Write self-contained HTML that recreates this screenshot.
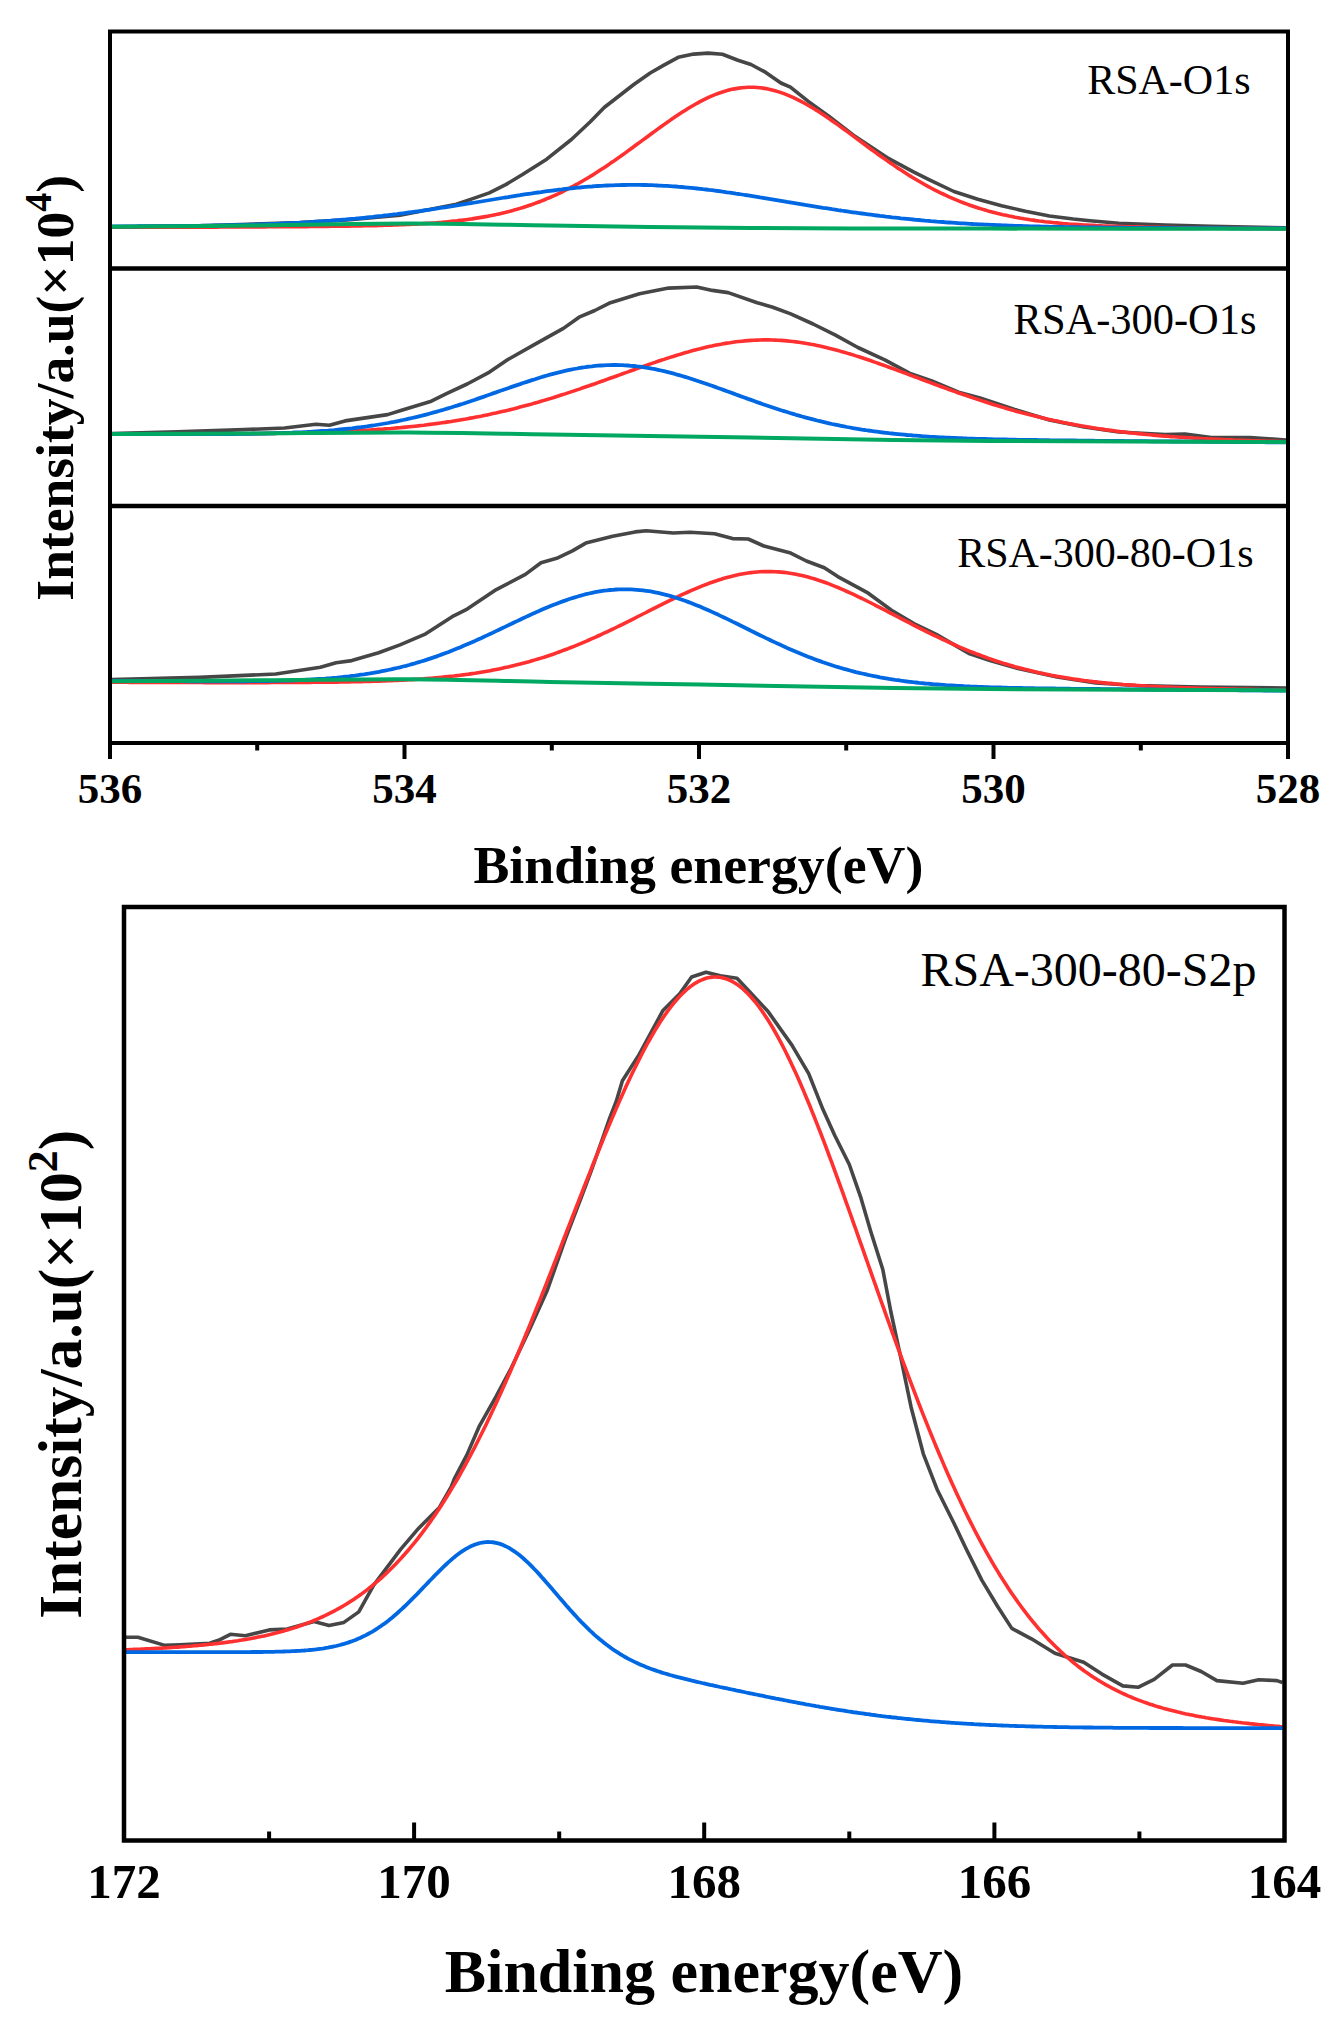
<!DOCTYPE html>
<html><head><meta charset="utf-8"><title>XPS spectra</title>
<style>
html,body{margin:0;padding:0;background:#fff;}
body{width:1340px;height:2024px;overflow:hidden;}
svg{display:block;}
text{font-family:"Liberation Serif",serif;fill:#000;}
.tl1{font-weight:bold;font-size:43px;}
.tl2{font-weight:bold;font-size:49px;}
.xt1{font-weight:bold;font-size:52px;}
.xt2{font-weight:bold;font-size:62px;}
.yt1{font-weight:bold;font-size:52px;}
.yt2{font-weight:bold;font-size:60.5px;}
.sup1{font-size:37px;}
.sup2{font-size:43px;}
.pl{font-size:42px;}
.pl2{font-size:48px;}
</style></head>
<body><svg width="1340" height="2024" viewBox="0 0 1340 2024">
<rect width="1340" height="2024" fill="#fff"/>
<defs>
<clipPath id="c1"><rect x="110" y="31.5" width="1178" height="237.0"/></clipPath>
<clipPath id="c2"><rect x="110" y="268.5" width="1178" height="237.5"/></clipPath>
<clipPath id="c3"><rect x="110" y="506" width="1178" height="237"/></clipPath>
<clipPath id="c4"><rect x="124" y="907" width="1160.5" height="933.5"/></clipPath>
</defs>
<path d="M112 226.8 L200 225.8 L300 222.6 L350 219.6 L400 215.2 L456.4 204.3 L472.8 198.6 L489.3 192.9 L505.7 184.6 L522.1 174.8 L546.7 159.2 L571.4 139.5 L590.3 121.8 L604.2 107.5 L633.8 84.5 L650.2 73 L663.9 65.1 L678.2 57.3 L693.7 54.1 L708.1 53.1 L722.4 54.3 L737.9 60.3 L751 64.5 L765.4 72.2 L780.9 83 L790.4 87.2 L808.6 101.6 L828.8 116.2 L853.4 135.2 L887 157.6 L913.9 172.2 L930 180.1 L953.9 191.5 L977.8 199.3 L1001.6 205.8 L1025.5 211.2 L1049.4 216 L1073.3 219 L1090 220.7 L1118.8 223.2 L1165.1 225 L1211.3 226.2 L1286 227.8" stroke="#464646" stroke-width="3.6" fill="none" stroke-linejoin="round" stroke-linecap="butt" clip-path="url(#c1)"/>
<path d="M112 227.3 L115 227.3 L118 227.3 L121 227.3 L124 227.3 L127 227.3 L130 227.3 L133 227.3 L136 227.3 L139 227.3 L142 227.2 L145 227.2 L148 227.2 L151 227.2 L154 227.2 L157 227.2 L160 227.2 L163 227.2 L166 227.2 L169 227.2 L172 227.2 L175 227.2 L178 227.2 L181 227.2 L184 227.2 L187 227.1 L190 227.1 L193 227.1 L196 227.1 L199 227.1 L202 227.1 L205 227.1 L208 227.1 L211 227.1 L214 227.1 L217 227.1 L220 227 L223 227 L226 227 L229 227 L232 227 L235 227 L238 227 L241 227 L244 227 L247 226.9 L250 226.9 L253 226.9 L256 226.9 L259 226.9 L262 226.9 L265 226.9 L268 226.8 L271 226.8 L274 226.8 L277 226.8 L280 226.8 L283 226.7 L286 226.7 L289 226.7 L292 226.7 L295 226.7 L298 226.6 L301 226.6 L304 226.6 L307 226.6 L310 226.5 L313 226.5 L316 226.5 L319 226.5 L322 226.4 L325 226.4 L328 226.4 L331 226.3 L334 226.3 L337 226.3 L340 226.2 L343 226.2 L346 226.1 L349 226.1 L352 226 L355 226 L358 225.9 L361 225.9 L364 225.8 L367 225.8 L370 225.7 L373 225.6 L376 225.6 L379 225.5 L382 225.4 L385 225.3 L388 225.2 L391 225.1 L394 225 L397 224.9 L400 224.8 L403 224.7 L406 224.5 L409 224.4 L412 224.3 L415 224.1 L418 224 L421 223.8 L424 223.6 L427 223.4 L430 223.2 L433 223 L436 222.8 L439 222.5 L442 222.3 L445 222 L448 221.7 L451 221.4 L454 221.1 L457 220.8 L460 220.4 L463 220.1 L466 219.7 L469 219.3 L472 218.9 L475 218.4 L478 217.9 L481 217.4 L484 216.9 L487 216.4 L490 215.8 L493 215.2 L496 214.6 L499 213.9 L502 213.2 L505 212.5 L508 211.7 L511 211 L514 210.1 L517 209.3 L520 208.4 L523 207.5 L526 206.5 L529 205.5 L532 204.5 L535 203.4 L538 202.3 L541 201.2 L544 200 L547 198.7 L550 197.5 L553 196.2 L556 194.8 L559 193.4 L562 192 L565 190.5 L568 189 L571 187.4 L574 185.8 L577 184.2 L580 182.5 L583 180.7 L586 179 L589 177.2 L592 175.4 L595 173.5 L598 171.6 L601 169.6 L604 167.7 L607 165.7 L610 163.6 L613 161.6 L616 159.5 L619 157.4 L622 155.2 L625 153.1 L628 150.9 L631 148.7 L634 146.5 L637 144.3 L640 142.1 L643 139.9 L646 137.7 L649 135.5 L652 133.3 L655 131.1 L658 128.9 L661 126.7 L664 124.6 L667 122.5 L670 120.4 L673 118.3 L676 116.3 L679 114.3 L682 112.3 L685 110.4 L688 108.5 L691 106.7 L694 105 L697 103.3 L700 101.7 L703 100.1 L706 98.6 L709 97.2 L712 95.9 L715 94.7 L718 93.5 L721 92.5 L724 91.5 L727 90.6 L730 89.8 L733 89.1 L736 88.6 L739 88.1 L742 87.7 L745 87.5 L748 87.3 L751 87.3 L754 87.3 L757 87.5 L760 87.8 L763 88.1 L766 88.6 L769 89.2 L772 89.9 L775 90.7 L778 91.6 L781 92.6 L784 93.6 L787 94.8 L790 96.1 L793 97.4 L796 98.8 L799 100.3 L802 101.9 L805 103.5 L808 105.2 L811 107 L814 108.8 L817 110.6 L820 112.6 L823 114.5 L826 116.5 L829 118.6 L832 120.7 L835 122.8 L838 124.9 L841 127.1 L844 129.2 L847 131.4 L850 133.6 L853 135.9 L856 138.1 L859 140.3 L862 142.5 L865 144.7 L868 147 L871 149.2 L874 151.3 L877 153.5 L880 155.7 L883 157.8 L886 159.9 L889 162 L892 164.1 L895 166.1 L898 168.2 L901 170.1 L904 172.1 L907 174 L910 175.9 L913 177.7 L916 179.5 L919 181.3 L922 183 L925 184.7 L928 186.4 L931 188 L934 189.6 L937 191.1 L940 192.6 L943 194 L946 195.4 L949 196.8 L952 198.1 L955 199.4 L958 200.6 L961 201.8 L964 203 L967 204.1 L970 205.2 L973 206.2 L976 207.2 L979 208.2 L982 209.1 L985 210 L988 210.9 L991 211.7 L994 212.5 L997 213.3 L1000 214 L1003 214.7 L1006 215.3 L1009 216 L1012 216.6 L1015 217.2 L1018 217.7 L1021 218.3 L1024 218.8 L1027 219.2 L1030 219.7 L1033 220.1 L1036 220.6 L1039 221 L1042 221.3 L1045 221.7 L1048 222 L1051 222.3 L1054 222.7 L1057 222.9 L1060 223.2 L1063 223.5 L1066 223.7 L1069 224 L1072 224.2 L1075 224.4 L1078 224.6 L1081 224.8 L1084 225 L1087 225.1 L1090 225.3 L1093 225.4 L1096 225.6 L1099 225.7 L1102 225.9 L1105 226 L1108 226.1 L1111 226.2 L1114 226.3 L1117 226.4 L1120 226.5 L1123 226.6 L1126 226.7 L1129 226.8 L1132 226.9 L1135 226.9 L1138 227 L1141 227.1 L1144 227.1 L1147 227.2 L1150 227.3 L1153 227.3 L1156 227.4 L1159 227.4 L1162 227.5 L1165 227.5 L1168 227.6 L1171 227.6 L1174 227.6 L1177 227.7 L1180 227.7 L1183 227.8 L1186 227.8 L1189 227.8 L1192 227.9 L1195 227.9 L1198 227.9 L1201 228 L1204 228 L1207 228 L1210 228.1 L1213 228.1 L1216 228.1 L1219 228.2 L1222 228.2 L1225 228.2 L1228 228.2 L1231 228.3 L1234 228.3 L1237 228.3 L1240 228.3 L1243 228.4 L1246 228.4 L1249 228.4 L1252 228.4 L1255 228.5 L1258 228.5 L1261 228.5 L1264 228.5 L1267 228.5 L1270 228.6 L1273 228.6 L1276 228.6 L1279 228.6 L1282 228.6 L1285 228.7 L1286 228.7" stroke="#FF3030" stroke-width="3.6" fill="none" stroke-linejoin="round" stroke-linecap="butt" clip-path="url(#c1)"/>
<path d="M112 226.3 L115 226.3 L118 226.3 L121 226.3 L124 226.3 L127 226.3 L130 226.3 L133 226.3 L136 226.3 L139 226.2 L142 226.2 L145 226.2 L148 226.2 L151 226.2 L154 226.2 L157 226.2 L160 226.1 L163 226.1 L166 226.1 L169 226.1 L172 226 L175 226 L178 226 L181 226 L184 225.9 L187 225.9 L190 225.9 L193 225.8 L196 225.8 L199 225.8 L202 225.7 L205 225.7 L208 225.6 L211 225.6 L214 225.5 L217 225.5 L220 225.4 L223 225.4 L226 225.3 L229 225.2 L232 225.2 L235 225.1 L238 225 L241 225 L244 224.9 L247 224.8 L250 224.7 L253 224.6 L256 224.5 L259 224.4 L262 224.3 L265 224.2 L268 224.1 L271 224 L274 223.9 L277 223.8 L280 223.6 L283 223.5 L286 223.4 L289 223.2 L292 223.1 L295 222.9 L298 222.8 L301 222.6 L304 222.4 L307 222.3 L310 222.1 L313 221.9 L316 221.7 L319 221.5 L322 221.3 L325 221.1 L328 220.9 L331 220.7 L334 220.4 L337 220.2 L340 220 L343 219.7 L346 219.5 L349 219.2 L352 218.9 L355 218.7 L358 218.4 L361 218.1 L364 217.8 L367 217.5 L370 217.2 L373 216.9 L376 216.5 L379 216.2 L382 215.9 L385 215.5 L388 215.2 L391 214.8 L394 214.4 L397 214.1 L400 213.7 L403 213.3 L406 212.9 L409 212.5 L412 212.1 L415 211.7 L418 211.3 L421 210.9 L424 210.4 L427 210 L430 209.6 L433 209.1 L436 208.7 L439 208.2 L442 207.7 L445 207.3 L448 206.8 L451 206.3 L454 205.9 L457 205.4 L460 204.9 L463 204.4 L466 203.9 L469 203.4 L472 203 L475 202.5 L478 202 L481 201.5 L484 201 L487 200.5 L490 200 L493 199.5 L496 199 L499 198.5 L502 198 L505 197.5 L508 197.1 L511 196.6 L514 196.1 L517 195.6 L520 195.2 L523 194.7 L526 194.2 L529 193.8 L532 193.4 L535 192.9 L538 192.5 L541 192.1 L544 191.6 L547 191.2 L550 190.8 L553 190.5 L556 190.1 L559 189.7 L562 189.4 L565 189 L568 188.7 L571 188.4 L574 188 L577 187.7 L580 187.5 L583 187.2 L586 186.9 L589 186.7 L592 186.5 L595 186.2 L598 186 L601 185.9 L604 185.7 L607 185.5 L610 185.4 L613 185.3 L616 185.2 L619 185.1 L622 185 L625 185 L628 184.9 L631 184.9 L634 184.9 L637 184.9 L640 184.9 L643 185 L646 185 L649 185.1 L652 185.2 L655 185.3 L658 185.5 L661 185.6 L664 185.8 L667 185.9 L670 186.1 L673 186.3 L676 186.5 L679 186.8 L682 187 L685 187.3 L688 187.6 L691 187.9 L694 188.2 L697 188.5 L700 188.8 L703 189.2 L706 189.5 L709 189.9 L712 190.2 L715 190.6 L718 191 L721 191.4 L724 191.8 L727 192.3 L730 192.7 L733 193.1 L736 193.6 L739 194 L742 194.5 L745 195 L748 195.4 L751 195.9 L754 196.4 L757 196.9 L760 197.4 L763 197.8 L766 198.3 L769 198.8 L772 199.3 L775 199.8 L778 200.3 L781 200.8 L784 201.3 L787 201.9 L790 202.4 L793 202.9 L796 203.4 L799 203.9 L802 204.4 L805 204.9 L808 205.3 L811 205.8 L814 206.3 L817 206.8 L820 207.3 L823 207.8 L826 208.2 L829 208.7 L832 209.2 L835 209.6 L838 210.1 L841 210.5 L844 211 L847 211.4 L850 211.9 L853 212.3 L856 212.7 L859 213.1 L862 213.5 L865 213.9 L868 214.3 L871 214.7 L874 215.1 L877 215.5 L880 215.9 L883 216.2 L886 216.6 L889 216.9 L892 217.3 L895 217.6 L898 217.9 L901 218.3 L904 218.6 L907 218.9 L910 219.2 L913 219.5 L916 219.8 L919 220 L922 220.3 L925 220.6 L928 220.8 L931 221.1 L934 221.3 L937 221.6 L940 221.8 L943 222 L946 222.3 L949 222.5 L952 222.7 L955 222.9 L958 223.1 L961 223.3 L964 223.4 L967 223.6 L970 223.8 L973 224 L976 224.1 L979 224.3 L982 224.4 L985 224.6 L988 224.7 L991 224.9 L994 225 L997 225.1 L1000 225.2 L1003 225.4 L1006 225.5 L1009 225.6 L1012 225.7 L1015 225.8 L1018 225.9 L1021 226 L1024 226.1 L1027 226.2 L1030 226.3 L1033 226.3 L1036 226.4 L1039 226.5 L1042 226.6 L1045 226.6 L1048 226.7 L1051 226.8 L1054 226.8 L1057 226.9 L1060 226.9 L1063 227 L1066 227.1 L1069 227.1 L1072 227.2 L1075 227.2 L1078 227.2 L1081 227.3 L1084 227.3 L1087 227.4 L1090 227.4 L1093 227.4 L1096 227.5 L1099 227.5 L1102 227.6 L1105 227.6 L1108 227.6 L1111 227.6 L1114 227.7 L1117 227.7 L1120 227.7 L1123 227.7 L1126 227.8 L1129 227.8 L1132 227.8 L1135 227.8 L1138 227.9 L1141 227.9 L1144 227.9 L1147 227.9 L1150 227.9 L1153 228 L1156 228 L1159 228 L1162 228 L1165 228 L1168 228 L1171 228 L1174 228.1 L1177 228.1 L1180 228.1 L1183 228.1 L1186 228.1 L1189 228.1 L1192 228.1 L1195 228.1 L1198 228.2 L1201 228.2 L1204 228.2 L1207 228.2 L1210 228.2 L1213 228.2 L1216 228.2 L1219 228.2 L1222 228.2 L1225 228.2 L1228 228.3 L1231 228.3 L1234 228.3 L1237 228.3 L1240 228.3 L1243 228.3 L1246 228.3 L1249 228.3 L1252 228.3 L1255 228.3 L1258 228.3 L1261 228.3 L1264 228.3 L1267 228.4 L1270 228.4 L1273 228.4 L1276 228.4 L1279 228.4 L1282 228.4 L1285 228.4 L1286 228.4" stroke="#0068E2" stroke-width="3.8" fill="none" stroke-linejoin="round" stroke-linecap="butt" clip-path="url(#c1)"/>
<path d="M112 226.8 C135 226.6 200.3 226.1 250 225.5 C299.7 224.9 360 223.5 410 223.5 C460 223.5 501.7 224.8 550 225.5 C598.3 226.2 650 227.1 700 227.6 C750 228.1 801.7 228.3 850 228.5 C898.3 228.7 917.3 228.5 990 228.6 C1062.7 228.7 1236.7 228.8 1286 228.8" stroke="#00A862" stroke-width="4.0" fill="none" stroke-linejoin="round" stroke-linecap="butt" clip-path="url(#c1)"/>
<path d="M112 433.5 L177 431.9 L244.3 429.6 L284.6 428 L316 424.3 L329.4 425.2 L345 420.9 L387.6 414.6 L400 410.8 L431.3 401.2 L447 393.4 L467.2 384 L489.5 372.1 L507.5 359.8 L534.3 344.6 L563.4 328.4 L579.1 317.2 L594.8 310.5 L610.4 302.7 L639.5 293.7 L668.6 288.1 L696.7 287 L712.4 290.4 L728.1 292.6 L757.2 302.7 L772.8 307.2 L790.7 313.9 L813.1 324 L835.5 335.2 L857.9 347.5 L884.8 359.8 L909.4 373.2 L931.8 381 L958.6 392.2 L980 398 L1014.7 409.5 L1049.4 420 L1084.1 427 L1118.8 432 L1165.1 434.5 L1185 434 L1211.3 437.5 L1250 437.5 L1286 440" stroke="#464646" stroke-width="3.6" fill="none" stroke-linejoin="round" stroke-linecap="butt" clip-path="url(#c2)"/>
<path d="M112 433.9 L115 433.9 L118 434 L121 434 L124 434 L127 434 L130 434 L133 434 L136 434 L139 434 L142 434 L145 434 L148 434 L151 434 L154 434 L157 434 L160 434 L163 434 L166 434 L169 434 L172 434 L175 434 L178 434 L181 434 L184 434 L187 434 L190 434 L193 434 L196 434 L199 434 L202 434 L205 434 L208 433.9 L211 433.9 L214 433.9 L217 433.9 L220 433.9 L223 433.9 L226 433.9 L229 433.8 L232 433.8 L235 433.8 L238 433.8 L241 433.8 L244 433.7 L247 433.7 L250 433.7 L253 433.6 L256 433.6 L259 433.6 L262 433.5 L265 433.5 L268 433.5 L271 433.4 L274 433.4 L277 433.3 L280 433.3 L283 433.2 L286 433.2 L289 433.1 L292 433.1 L295 433 L298 432.9 L301 432.9 L304 432.8 L307 432.7 L310 432.6 L313 432.5 L316 432.5 L319 432.4 L322 432.3 L325 432.2 L328 432.1 L331 431.9 L334 431.8 L337 431.7 L340 431.6 L343 431.5 L346 431.3 L349 431.2 L352 431 L355 430.9 L358 430.7 L361 430.5 L364 430.4 L367 430.2 L370 430 L373 429.8 L376 429.6 L379 429.4 L382 429.2 L385 428.9 L388 428.7 L391 428.5 L394 428.2 L397 427.9 L400 427.7 L403 427.4 L406 427.1 L409 426.8 L412 426.5 L415 426.2 L418 425.9 L421 425.5 L424 425.2 L427 424.8 L430 424.4 L433 424 L436 423.6 L439 423.2 L442 422.8 L445 422.4 L448 421.9 L451 421.5 L454 421 L457 420.5 L460 420 L463 419.5 L466 419 L469 418.4 L472 417.9 L475 417.3 L478 416.7 L481 416.2 L484 415.5 L487 414.9 L490 414.3 L493 413.6 L496 413 L499 412.3 L502 411.6 L505 410.9 L508 410.2 L511 409.4 L514 408.7 L517 407.9 L520 407.1 L523 406.3 L526 405.5 L529 404.7 L532 403.9 L535 403 L538 402.2 L541 401.3 L544 400.4 L547 399.5 L550 398.6 L553 397.7 L556 396.7 L559 395.8 L562 394.8 L565 393.9 L568 392.9 L571 391.9 L574 390.9 L577 389.9 L580 388.9 L583 387.8 L586 386.8 L589 385.8 L592 384.7 L595 383.7 L598 382.6 L601 381.5 L604 380.5 L607 379.4 L610 378.3 L613 377.3 L616 376.2 L619 375.1 L622 374 L625 372.9 L628 371.9 L631 370.8 L634 369.7 L637 368.6 L640 367.6 L643 366.5 L646 365.5 L649 364.4 L652 363.4 L655 362.4 L658 361.3 L661 360.3 L664 359.4 L667 358.4 L670 357.4 L673 356.5 L676 355.5 L679 354.6 L682 353.7 L685 352.8 L688 352 L691 351.1 L694 350.3 L697 349.5 L700 348.8 L703 348 L706 347.3 L709 346.6 L712 346 L715 345.3 L718 344.7 L721 344.2 L724 343.6 L727 343.1 L730 342.7 L733 342.2 L736 341.8 L739 341.5 L742 341.2 L745 340.9 L748 340.6 L751 340.4 L754 340.2 L757 340.1 L760 340 L763 339.9 L766 339.9 L769 339.9 L772 340 L775 340.1 L778 340.2 L781 340.4 L784 340.6 L787 340.9 L790 341.2 L793 341.5 L796 341.9 L799 342.3 L802 342.7 L805 343.2 L808 343.7 L811 344.3 L814 344.8 L817 345.4 L820 346.1 L823 346.7 L826 347.4 L829 348.2 L832 348.9 L835 349.7 L838 350.5 L841 351.4 L844 352.2 L847 353.1 L850 354 L853 354.9 L856 355.9 L859 356.8 L862 357.8 L865 358.8 L868 359.8 L871 360.8 L874 361.9 L877 362.9 L880 364 L883 365 L886 366.1 L889 367.2 L892 368.3 L895 369.4 L898 370.5 L901 371.6 L904 372.7 L907 373.9 L910 375 L913 376.1 L916 377.2 L919 378.4 L922 379.5 L925 380.6 L928 381.7 L931 382.9 L934 384 L937 385.1 L940 386.2 L943 387.3 L946 388.4 L949 389.5 L952 390.6 L955 391.6 L958 392.7 L961 393.8 L964 394.8 L967 395.8 L970 396.9 L973 397.9 L976 398.9 L979 399.9 L982 400.9 L985 401.8 L988 402.8 L991 403.7 L994 404.7 L997 405.6 L1000 406.5 L1003 407.4 L1006 408.3 L1009 409.2 L1012 410 L1015 410.9 L1018 411.7 L1021 412.5 L1024 413.3 L1027 414.1 L1030 414.8 L1033 415.6 L1036 416.3 L1039 417.1 L1042 417.8 L1045 418.5 L1048 419.2 L1051 419.8 L1054 420.5 L1057 421.1 L1060 421.8 L1063 422.4 L1066 423 L1069 423.6 L1072 424.1 L1075 424.7 L1078 425.2 L1081 425.8 L1084 426.3 L1087 426.8 L1090 427.3 L1093 427.8 L1096 428.2 L1099 428.7 L1102 429.1 L1105 429.6 L1108 430 L1111 430.4 L1114 430.8 L1117 431.2 L1120 431.6 L1123 431.9 L1126 432.3 L1129 432.7 L1132 433 L1135 433.3 L1138 433.6 L1141 433.9 L1144 434.2 L1147 434.5 L1150 434.8 L1153 435.1 L1156 435.4 L1159 435.6 L1162 435.9 L1165 436.1 L1168 436.3 L1171 436.6 L1174 436.8 L1177 437 L1180 437.2 L1183 437.4 L1186 437.6 L1189 437.8 L1192 438 L1195 438.2 L1198 438.3 L1201 438.5 L1204 438.7 L1207 438.8 L1210 439 L1213 439.1 L1216 439.3 L1219 439.4 L1222 439.5 L1225 439.7 L1228 439.8 L1231 439.9 L1234 440.1 L1237 440.2 L1240 440.3 L1243 440.4 L1246 440.5 L1249 440.6 L1252 440.7 L1255 440.8 L1258 440.9 L1261 441 L1264 441.1 L1267 441.2 L1270 441.3 L1273 441.3 L1276 441.4 L1279 441.5 L1282 441.6 L1285 441.7 L1286 441.7" stroke="#FF3030" stroke-width="3.6" fill="none" stroke-linejoin="round" stroke-linecap="butt" clip-path="url(#c2)"/>
<path d="M112 433.9 L115 433.9 L118 433.9 L121 434 L124 434 L127 434 L130 434 L133 434 L136 434 L139 434 L142 434 L145 434.1 L148 434.1 L151 434.1 L154 434.1 L157 434.1 L160 434.1 L163 434.1 L166 434.1 L169 434.1 L172 434.1 L175 434.1 L178 434.1 L181 434.1 L184 434.1 L187 434.1 L190 434.1 L193 434.1 L196 434.1 L199 434.1 L202 434.1 L205 434.1 L208 434.1 L211 434.1 L214 434.1 L217 434.1 L220 434.1 L223 434 L226 434 L229 434 L232 434 L235 434 L238 433.9 L241 433.9 L244 433.9 L247 433.8 L250 433.8 L253 433.7 L256 433.7 L259 433.6 L262 433.6 L265 433.5 L268 433.4 L271 433.3 L274 433.3 L277 433.2 L280 433.1 L283 433 L286 432.9 L289 432.8 L292 432.7 L295 432.5 L298 432.4 L301 432.3 L304 432.1 L307 432 L310 431.8 L313 431.6 L316 431.4 L319 431.2 L322 431 L325 430.8 L328 430.6 L331 430.3 L334 430.1 L337 429.8 L340 429.5 L343 429.2 L346 428.9 L349 428.6 L352 428.3 L355 427.9 L358 427.5 L361 427.2 L364 426.8 L367 426.4 L370 425.9 L373 425.5 L376 425 L379 424.5 L382 424 L385 423.5 L388 423 L391 422.4 L394 421.9 L397 421.3 L400 420.7 L403 420 L406 419.4 L409 418.7 L412 418 L415 417.3 L418 416.6 L421 415.9 L424 415.1 L427 414.3 L430 413.5 L433 412.7 L436 411.9 L439 411 L442 410.2 L445 409.3 L448 408.4 L451 407.5 L454 406.5 L457 405.6 L460 404.6 L463 403.7 L466 402.7 L469 401.7 L472 400.7 L475 399.7 L478 398.6 L481 397.6 L484 396.6 L487 395.5 L490 394.5 L493 393.4 L496 392.4 L499 391.3 L502 390.3 L505 389.2 L508 388.2 L511 387.1 L514 386.1 L517 385.1 L520 384.1 L523 383 L526 382.1 L529 381.1 L532 380.1 L535 379.2 L538 378.2 L541 377.3 L544 376.4 L547 375.5 L550 374.7 L553 373.9 L556 373.1 L559 372.3 L562 371.6 L565 370.9 L568 370.2 L571 369.6 L574 369 L577 368.5 L580 367.9 L583 367.5 L586 367 L589 366.6 L592 366.3 L595 365.9 L598 365.7 L601 365.5 L604 365.3 L607 365.1 L610 365.1 L613 365 L616 365 L619 365.1 L622 365.2 L625 365.3 L628 365.5 L631 365.8 L634 366 L637 366.4 L640 366.7 L643 367.2 L646 367.6 L649 368.1 L652 368.7 L655 369.2 L658 369.8 L661 370.5 L664 371.2 L667 371.9 L670 372.7 L673 373.4 L676 374.3 L679 375.1 L682 376 L685 376.9 L688 377.8 L691 378.7 L694 379.7 L697 380.7 L700 381.7 L703 382.7 L706 383.7 L709 384.8 L712 385.8 L715 386.9 L718 388 L721 389 L724 390.1 L727 391.2 L730 392.3 L733 393.4 L736 394.5 L739 395.6 L742 396.7 L745 397.8 L748 398.9 L751 399.9 L754 401 L757 402.1 L760 403.1 L763 404.2 L766 405.2 L769 406.2 L772 407.2 L775 408.2 L778 409.2 L781 410.2 L784 411.1 L787 412 L790 413 L793 413.9 L796 414.8 L799 415.6 L802 416.5 L805 417.3 L808 418.1 L811 418.9 L814 419.7 L817 420.5 L820 421.2 L823 421.9 L826 422.6 L829 423.3 L832 424 L835 424.6 L838 425.2 L841 425.8 L844 426.4 L847 427 L850 427.5 L853 428.1 L856 428.6 L859 429.1 L862 429.6 L865 430 L868 430.5 L871 430.9 L874 431.3 L877 431.7 L880 432.1 L883 432.5 L886 432.8 L889 433.2 L892 433.5 L895 433.8 L898 434.1 L901 434.4 L904 434.7 L907 435 L910 435.2 L913 435.5 L916 435.7 L919 435.9 L922 436.2 L925 436.4 L928 436.6 L931 436.8 L934 436.9 L937 437.1 L940 437.3 L943 437.4 L946 437.6 L949 437.7 L952 437.9 L955 438 L958 438.1 L961 438.2 L964 438.3 L967 438.5 L970 438.6 L973 438.7 L976 438.8 L979 438.9 L982 438.9 L985 439 L988 439.1 L991 439.2 L994 439.3 L997 439.3 L1000 439.4 L1003 439.5 L1006 439.5 L1009 439.6 L1012 439.6 L1015 439.7 L1018 439.8 L1021 439.8 L1024 439.9 L1027 439.9 L1030 440 L1033 440 L1036 440 L1039 440.1 L1042 440.1 L1045 440.2 L1048 440.2 L1051 440.3 L1054 440.3 L1057 440.3 L1060 440.4 L1063 440.4 L1066 440.4 L1069 440.5 L1072 440.5 L1075 440.5 L1078 440.6 L1081 440.6 L1084 440.6 L1087 440.7 L1090 440.7 L1093 440.7 L1096 440.8 L1099 440.8 L1102 440.8 L1105 440.9 L1108 440.9 L1111 440.9 L1114 440.9 L1117 441 L1120 441 L1123 441 L1126 441.1 L1129 441.1 L1132 441.1 L1135 441.1 L1138 441.2 L1141 441.2 L1144 441.2 L1147 441.2 L1150 441.3 L1153 441.3 L1156 441.3 L1159 441.4 L1162 441.4 L1165 441.4 L1168 441.4 L1171 441.5 L1174 441.5 L1177 441.5 L1180 441.5 L1183 441.6 L1186 441.6 L1189 441.6 L1192 441.6 L1195 441.7 L1198 441.7 L1201 441.7 L1204 441.7 L1207 441.8 L1210 441.8 L1213 441.8 L1216 441.8 L1219 441.9 L1222 441.9 L1225 441.9 L1228 441.9 L1231 442 L1234 442 L1237 442 L1240 442 L1243 442.1 L1246 442.1 L1249 442.1 L1252 442.1 L1255 442.2 L1258 442.2 L1261 442.2 L1264 442.2 L1267 442.3 L1270 442.3 L1273 442.3 L1276 442.3 L1279 442.3 L1282 442.4 L1285 442.4 L1286 442.4" stroke="#0068E2" stroke-width="3.8" fill="none" stroke-linejoin="round" stroke-linecap="butt" clip-path="url(#c2)"/>
<path d="M112 434.1 C135 434 200.3 433.8 250 433.5 C299.7 433.2 360 432.3 410 432.5 C460 432.7 501.7 433.8 550 434.5 C598.3 435.2 650 436 700 436.8 C750 437.6 801.7 438.5 850 439.2 C898.3 439.9 917.3 440.5 990 441 C1062.7 441.5 1236.7 441.8 1286 442" stroke="#00A862" stroke-width="4.0" fill="none" stroke-linejoin="round" stroke-linecap="butt" clip-path="url(#c2)"/>
<path d="M112 679.6 L199.5 677.4 L275.7 674 L320.4 667.3 L336.1 662.8 L351.8 660.6 L378.6 652.8 L400 644.9 L424.6 634.4 L453.7 615.8 L467.2 609.1 L496.3 589.6 L525.4 574.4 L541 562.8 L556.7 558.3 L572.4 550.9 L585.8 543.1 L612.7 536.3 L635.1 531.9 L646.3 530.7 L673.1 533 L690 532.3 L714.6 533.7 L732.5 538.6 L748.2 539 L763.9 546 L790.7 553.1 L806.4 561 L824.3 567.7 L837.8 576.6 L866.9 592.3 L891.5 610.2 L913.9 623.6 L936.2 634.4 L969.8 653.9 L990 660.6 L1018 668.5 L1057 677 L1096 683 L1136 685.5 L1200 687 L1286 688" stroke="#464646" stroke-width="3.6" fill="none" stroke-linejoin="round" stroke-linecap="butt" clip-path="url(#c3)"/>
<path d="M112 682.3 L115 682.3 L118 682.3 L121 682.3 L124 682.3 L127 682.3 L130 682.4 L133 682.4 L136 682.4 L139 682.4 L142 682.4 L145 682.4 L148 682.4 L151 682.4 L154 682.4 L157 682.4 L160 682.5 L163 682.5 L166 682.5 L169 682.5 L172 682.5 L175 682.5 L178 682.5 L181 682.5 L184 682.5 L187 682.5 L190 682.5 L193 682.5 L196 682.5 L199 682.5 L202 682.5 L205 682.6 L208 682.6 L211 682.6 L214 682.6 L217 682.6 L220 682.6 L223 682.6 L226 682.6 L229 682.6 L232 682.6 L235 682.6 L238 682.6 L241 682.6 L244 682.6 L247 682.6 L250 682.6 L253 682.6 L256 682.6 L259 682.6 L262 682.6 L265 682.6 L268 682.6 L271 682.5 L274 682.5 L277 682.5 L280 682.5 L283 682.5 L286 682.5 L289 682.5 L292 682.5 L295 682.5 L298 682.4 L301 682.4 L304 682.4 L307 682.4 L310 682.4 L313 682.3 L316 682.3 L319 682.3 L322 682.2 L325 682.2 L328 682.2 L331 682.1 L334 682.1 L337 682.1 L340 682 L343 682 L346 681.9 L349 681.9 L352 681.8 L355 681.7 L358 681.7 L361 681.6 L364 681.5 L367 681.4 L370 681.4 L373 681.3 L376 681.2 L379 681.1 L382 681 L385 680.9 L388 680.7 L391 680.6 L394 680.5 L397 680.4 L400 680.2 L403 680.1 L406 679.9 L409 679.7 L412 679.6 L415 679.4 L418 679.2 L421 679 L424 678.8 L427 678.5 L430 678.3 L433 678.1 L436 677.8 L439 677.5 L442 677.2 L445 676.9 L448 676.6 L451 676.3 L454 676 L457 675.6 L460 675.3 L463 674.9 L466 674.5 L469 674.1 L472 673.6 L475 673.2 L478 672.7 L481 672.2 L484 671.7 L487 671.2 L490 670.7 L493 670.1 L496 669.5 L499 668.9 L502 668.3 L505 667.6 L508 667 L511 666.3 L514 665.6 L517 664.8 L520 664.1 L523 663.3 L526 662.5 L529 661.7 L532 660.8 L535 659.9 L538 659 L541 658.1 L544 657.2 L547 656.2 L550 655.2 L553 654.2 L556 653.1 L559 652 L562 650.9 L565 649.8 L568 648.7 L571 647.5 L574 646.3 L577 645.1 L580 643.9 L583 642.6 L586 641.3 L589 640 L592 638.7 L595 637.4 L598 636 L601 634.6 L604 633.2 L607 631.8 L610 630.4 L613 629 L616 627.5 L619 626 L622 624.6 L625 623.1 L628 621.6 L631 620.1 L634 618.6 L637 617 L640 615.5 L643 614 L646 612.5 L649 610.9 L652 609.4 L655 607.9 L658 606.4 L661 604.9 L664 603.4 L667 601.9 L670 600.4 L673 599 L676 597.5 L679 596.1 L682 594.7 L685 593.3 L688 592 L691 590.7 L694 589.4 L697 588.1 L700 586.8 L703 585.6 L706 584.5 L709 583.3 L712 582.3 L715 581.2 L718 580.2 L721 579.3 L724 578.3 L727 577.5 L730 576.7 L733 575.9 L736 575.2 L739 574.6 L742 574 L745 573.5 L748 573 L751 572.6 L754 572.3 L757 572 L760 571.8 L763 571.6 L766 571.6 L769 571.5 L772 571.6 L775 571.7 L778 571.9 L781 572.1 L784 572.4 L787 572.8 L790 573.2 L793 573.7 L796 574.3 L799 574.9 L802 575.5 L805 576.3 L808 577.1 L811 577.9 L814 578.8 L817 579.7 L820 580.7 L823 581.7 L826 582.8 L829 583.9 L832 585.1 L835 586.3 L838 587.5 L841 588.8 L844 590.1 L847 591.5 L850 592.8 L853 594.2 L856 595.6 L859 597.1 L862 598.5 L865 600 L868 601.5 L871 603 L874 604.5 L877 606.1 L880 607.6 L883 609.2 L886 610.7 L889 612.3 L892 613.9 L895 615.4 L898 617 L901 618.6 L904 620.1 L907 621.7 L910 623.2 L913 624.8 L916 626.3 L919 627.8 L922 629.4 L925 630.9 L928 632.4 L931 633.8 L934 635.3 L937 636.7 L940 638.1 L943 639.6 L946 640.9 L949 642.3 L952 643.7 L955 645 L958 646.3 L961 647.6 L964 648.8 L967 650.1 L970 651.3 L973 652.5 L976 653.7 L979 654.8 L982 655.9 L985 657 L988 658.1 L991 659.1 L994 660.2 L997 661.2 L1000 662.1 L1003 663.1 L1006 664 L1009 664.9 L1012 665.8 L1015 666.7 L1018 667.5 L1021 668.3 L1024 669.1 L1027 669.8 L1030 670.6 L1033 671.3 L1036 672 L1039 672.7 L1042 673.3 L1045 674 L1048 674.6 L1051 675.2 L1054 675.7 L1057 676.3 L1060 676.8 L1063 677.3 L1066 677.8 L1069 678.3 L1072 678.8 L1075 679.2 L1078 679.6 L1081 680.1 L1084 680.5 L1087 680.8 L1090 681.2 L1093 681.6 L1096 681.9 L1099 682.2 L1102 682.6 L1105 682.9 L1108 683.2 L1111 683.4 L1114 683.7 L1117 684 L1120 684.2 L1123 684.5 L1126 684.7 L1129 684.9 L1132 685.1 L1135 685.3 L1138 685.5 L1141 685.7 L1144 685.9 L1147 686.1 L1150 686.2 L1153 686.4 L1156 686.6 L1159 686.7 L1162 686.9 L1165 687 L1168 687.1 L1171 687.3 L1174 687.4 L1177 687.5 L1180 687.6 L1183 687.7 L1186 687.8 L1189 687.9 L1192 688 L1195 688.1 L1198 688.2 L1201 688.3 L1204 688.4 L1207 688.5 L1210 688.6 L1213 688.6 L1216 688.7 L1219 688.8 L1222 688.9 L1225 688.9 L1228 689 L1231 689.1 L1234 689.1 L1237 689.2 L1240 689.3 L1243 689.3 L1246 689.4 L1249 689.4 L1252 689.5 L1255 689.6 L1258 689.6 L1261 689.7 L1264 689.7 L1267 689.8 L1270 689.8 L1273 689.9 L1276 689.9 L1279 690 L1282 690 L1285 690.1 L1286 690.1" stroke="#FF3030" stroke-width="3.6" fill="none" stroke-linejoin="round" stroke-linecap="butt" clip-path="url(#c3)"/>
<path d="M112 680.7 L115 680.8 L118 680.8 L121 680.8 L124 680.8 L127 680.9 L130 680.9 L133 680.9 L136 680.9 L139 680.9 L142 681 L145 681 L148 681 L151 681 L154 681.1 L157 681.1 L160 681.1 L163 681.1 L166 681.1 L169 681.2 L172 681.2 L175 681.2 L178 681.2 L181 681.2 L184 681.2 L187 681.3 L190 681.3 L193 681.3 L196 681.3 L199 681.3 L202 681.3 L205 681.3 L208 681.3 L211 681.4 L214 681.4 L217 681.4 L220 681.4 L223 681.4 L226 681.4 L229 681.4 L232 681.3 L235 681.3 L238 681.3 L241 681.3 L244 681.3 L247 681.3 L250 681.2 L253 681.2 L256 681.2 L259 681.1 L262 681.1 L265 681.1 L268 681 L271 680.9 L274 680.9 L277 680.8 L280 680.7 L283 680.7 L286 680.6 L289 680.5 L292 680.4 L295 680.3 L298 680.1 L301 680 L304 679.9 L307 679.7 L310 679.6 L313 679.4 L316 679.2 L319 679 L322 678.8 L325 678.6 L328 678.3 L331 678.1 L334 677.8 L337 677.6 L340 677.3 L343 677 L346 676.6 L349 676.3 L352 675.9 L355 675.6 L358 675.2 L361 674.7 L364 674.3 L367 673.8 L370 673.4 L373 672.9 L376 672.3 L379 671.8 L382 671.2 L385 670.6 L388 670 L391 669.4 L394 668.7 L397 668 L400 667.3 L403 666.5 L406 665.8 L409 665 L412 664.1 L415 663.3 L418 662.4 L421 661.5 L424 660.6 L427 659.6 L430 658.6 L433 657.6 L436 656.6 L439 655.5 L442 654.4 L445 653.3 L448 652.2 L451 651 L454 649.8 L457 648.6 L460 647.4 L463 646.1 L466 644.8 L469 643.5 L472 642.2 L475 640.9 L478 639.5 L481 638.2 L484 636.8 L487 635.4 L490 634 L493 632.6 L496 631.1 L499 629.7 L502 628.3 L505 626.9 L508 625.4 L511 624 L514 622.5 L517 621.1 L520 619.7 L523 618.3 L526 616.9 L529 615.5 L532 614.1 L535 612.8 L538 611.4 L541 610.1 L544 608.8 L547 607.5 L550 606.3 L553 605.1 L556 603.9 L559 602.7 L562 601.6 L565 600.6 L568 599.5 L571 598.5 L574 597.6 L577 596.7 L580 595.8 L583 595 L586 594.2 L589 593.5 L592 592.8 L595 592.2 L598 591.7 L601 591.2 L604 590.7 L607 590.4 L610 590 L613 589.8 L616 589.5 L619 589.4 L622 589.3 L625 589.3 L628 589.3 L631 589.4 L634 589.6 L637 589.8 L640 590.1 L643 590.4 L646 590.8 L649 591.2 L652 591.7 L655 592.3 L658 592.9 L661 593.6 L664 594.3 L667 595.1 L670 595.9 L673 596.8 L676 597.7 L679 598.7 L682 599.7 L685 600.8 L688 601.9 L691 603 L694 604.2 L697 605.4 L700 606.6 L703 607.9 L706 609.2 L709 610.5 L712 611.9 L715 613.3 L718 614.6 L721 616.1 L724 617.5 L727 618.9 L730 620.4 L733 621.9 L736 623.3 L739 624.8 L742 626.3 L745 627.8 L748 629.3 L751 630.8 L754 632.2 L757 633.7 L760 635.2 L763 636.6 L766 638.1 L769 639.5 L772 641 L775 642.4 L778 643.8 L781 645.1 L784 646.5 L787 647.9 L790 649.2 L793 650.5 L796 651.8 L799 653 L802 654.3 L805 655.5 L808 656.7 L811 657.8 L814 659 L817 660.1 L820 661.1 L823 662.2 L826 663.2 L829 664.2 L832 665.2 L835 666.2 L838 667.1 L841 668 L844 668.9 L847 669.7 L850 670.5 L853 671.3 L856 672.1 L859 672.8 L862 673.5 L865 674.2 L868 674.9 L871 675.5 L874 676.1 L877 676.7 L880 677.3 L883 677.8 L886 678.3 L889 678.9 L892 679.3 L895 679.8 L898 680.2 L901 680.7 L904 681.1 L907 681.5 L910 681.8 L913 682.2 L916 682.5 L919 682.9 L922 683.2 L925 683.5 L928 683.7 L931 684 L934 684.3 L937 684.5 L940 684.7 L943 684.9 L946 685.2 L949 685.4 L952 685.5 L955 685.7 L958 685.9 L961 686 L964 686.2 L967 686.3 L970 686.5 L973 686.6 L976 686.7 L979 686.9 L982 687 L985 687.1 L988 687.2 L991 687.3 L994 687.4 L997 687.5 L1000 687.5 L1003 687.6 L1006 687.7 L1009 687.8 L1012 687.8 L1015 687.9 L1018 688 L1021 688 L1024 688.1 L1027 688.1 L1030 688.2 L1033 688.2 L1036 688.3 L1039 688.3 L1042 688.4 L1045 688.4 L1048 688.5 L1051 688.5 L1054 688.5 L1057 688.6 L1060 688.6 L1063 688.7 L1066 688.7 L1069 688.7 L1072 688.8 L1075 688.8 L1078 688.8 L1081 688.9 L1084 688.9 L1087 688.9 L1090 689 L1093 689 L1096 689 L1099 689 L1102 689.1 L1105 689.1 L1108 689.1 L1111 689.2 L1114 689.2 L1117 689.2 L1120 689.2 L1123 689.3 L1126 689.3 L1129 689.3 L1132 689.3 L1135 689.4 L1138 689.4 L1141 689.4 L1144 689.5 L1147 689.5 L1150 689.5 L1153 689.5 L1156 689.6 L1159 689.6 L1162 689.6 L1165 689.6 L1168 689.7 L1171 689.7 L1174 689.7 L1177 689.7 L1180 689.8 L1183 689.8 L1186 689.8 L1189 689.8 L1192 689.9 L1195 689.9 L1198 689.9 L1201 689.9 L1204 690 L1207 690 L1210 690 L1213 690 L1216 690.1 L1219 690.1 L1222 690.1 L1225 690.1 L1228 690.2 L1231 690.2 L1234 690.2 L1237 690.2 L1240 690.3 L1243 690.3 L1246 690.3 L1249 690.3 L1252 690.4 L1255 690.4 L1258 690.4 L1261 690.4 L1264 690.5 L1267 690.5 L1270 690.5 L1273 690.5 L1276 690.6 L1279 690.6 L1282 690.6 L1285 690.6 L1286 690.7" stroke="#0068E2" stroke-width="3.8" fill="none" stroke-linejoin="round" stroke-linecap="butt" clip-path="url(#c3)"/>
<path d="M112 681.2 C136.7 681.1 210.3 680.6 260 680.3 C309.7 680 361.7 678.9 410 679.2 C458.3 679.5 501.7 681.1 550 682 C598.3 682.9 650 683.7 700 684.6 C750 685.5 801.7 686.5 850 687.2 C898.3 687.9 917.3 688.5 990 689 C1062.7 689.5 1236.7 690.2 1286 690.4" stroke="#00A862" stroke-width="4.0" fill="none" stroke-linejoin="round" stroke-linecap="butt" clip-path="url(#c3)"/>
<path d="M126 1637.3 L137.9 1637.3 L164.8 1645.4 L179.7 1644.8 L209.6 1643.3 L218.5 1640.3 L230.4 1634.3 L245.4 1635.8 L269.3 1629.9 L287.2 1629 L314 1621.5 L329 1625.4 L343.9 1622.4 L358.8 1611.9 L373.7 1585.1 L400.6 1549.3 L418.5 1528.4 L439.4 1507.5 L451.3 1486.6 L454.2 1479.1 L466.9 1454.9 L479.5 1425.8 L496 1396.7 L511.5 1367.6 L529.9 1328.8 L547.4 1290 L565 1239.8 L580.9 1198.3 L591.3 1170.7 L601 1143 L609 1120 L616.2 1101.5 L622.4 1080.7 L639.1 1054.6 L663 1010.4 L679.7 993.7 L691.6 977 L706 972.2 L720.3 975.8 L737 978.2 L768.1 1011.6 L791.9 1045.1 L808.7 1073.7 L823 1109.6 L834.9 1135.8 L849.3 1164.5 L860.5 1196.6 L870.6 1231 L882.8 1269.5 L890.9 1312 L901 1358.6 L911.1 1407.2 L923.3 1453.8 L937.5 1490.3 L953.7 1522.7 L966.1 1548.7 L981.8 1580.1 L997.5 1606.2 L1011.8 1628.4 L1031.4 1638.8 L1054.9 1653.2 L1083.7 1662.3 L1101.9 1674.1 L1122.8 1685.9 L1138.5 1687.2 L1154.2 1679.3 L1172.5 1665 L1185.5 1665 L1201.2 1671.5 L1216.9 1680.6 L1243 1683.2 L1258.7 1679.8 L1276.9 1680.6 L1282.5 1682.5" stroke="#464646" stroke-width="3.6" fill="none" stroke-linejoin="round" stroke-linecap="butt" clip-path="url(#c4)"/>
<path d="M126 1649.7 L128 1649.7 L130 1649.6 L132 1649.5 L134 1649.4 L136 1649.3 L138 1649.3 L140 1649.2 L142 1649.1 L144 1649 L146 1648.9 L148 1648.8 L150 1648.7 L152 1648.6 L154 1648.5 L156 1648.4 L158 1648.3 L160 1648.2 L162 1648.1 L164 1648 L166 1647.9 L168 1647.7 L170 1647.6 L172 1647.5 L174 1647.3 L176 1647.2 L178 1647.1 L180 1646.9 L182 1646.8 L184 1646.6 L186 1646.5 L188 1646.3 L190 1646.2 L192 1646 L194 1645.8 L196 1645.6 L198 1645.5 L200 1645.3 L202 1645.1 L204 1644.9 L206 1644.7 L208 1644.5 L210 1644.3 L212 1644.1 L214 1643.8 L216 1643.6 L218 1643.4 L220 1643.1 L222 1642.9 L224 1642.6 L226 1642.4 L228 1642.1 L230 1641.8 L232 1641.6 L234 1641.3 L236 1641 L238 1640.7 L240 1640.3 L242 1640 L244 1639.7 L246 1639.4 L248 1639 L250 1638.7 L252 1638.3 L254 1637.9 L256 1637.5 L258 1637.1 L260 1636.7 L262 1636.3 L264 1635.9 L266 1635.4 L268 1635 L270 1634.5 L272 1634 L274 1633.5 L276 1633 L278 1632.5 L280 1632 L282 1631.4 L284 1630.9 L286 1630.3 L288 1629.7 L290 1629.1 L292 1628.5 L294 1627.9 L296 1627.2 L298 1626.5 L300 1625.8 L302 1625.1 L304 1624.4 L306 1623.7 L308 1622.9 L310 1622.1 L312 1621.3 L314 1620.5 L316 1619.7 L318 1618.8 L320 1617.9 L322 1617 L324 1616.1 L326 1615.2 L328 1614.2 L330 1613.2 L332 1612.2 L334 1611.1 L336 1610 L338 1608.9 L340 1607.8 L342 1606.7 L344 1605.5 L346 1604.3 L348 1603.1 L350 1601.8 L352 1600.5 L354 1599.2 L356 1597.8 L358 1596.5 L360 1595 L362 1593.6 L364 1592.1 L366 1590.6 L368 1589.1 L370 1587.5 L372 1585.9 L374 1584.2 L376 1582.5 L378 1580.8 L380 1579.1 L382 1577.3 L384 1575.5 L386 1573.6 L388 1571.7 L390 1569.8 L392 1567.8 L394 1565.7 L396 1563.7 L398 1561.6 L400 1559.4 L402 1557.3 L404 1555 L406 1552.8 L408 1550.5 L410 1548.1 L412 1545.7 L414 1543.3 L416 1540.8 L418 1538.3 L420 1535.7 L422 1533.1 L424 1530.4 L426 1527.7 L428 1524.9 L430 1522.1 L432 1519.3 L434 1516.4 L436 1513.5 L438 1510.5 L440 1507.4 L442 1504.4 L444 1501.2 L446 1498 L448 1494.8 L450 1491.6 L452 1488.2 L454 1484.9 L456 1481.5 L458 1478 L460 1474.5 L462 1470.9 L464 1467.3 L466 1463.7 L468 1460 L470 1456.2 L472 1452.5 L474 1448.6 L476 1444.7 L478 1440.8 L480 1436.8 L482 1432.8 L484 1428.8 L486 1424.7 L488 1420.5 L490 1416.3 L492 1412.1 L494 1407.8 L496 1403.5 L498 1399.1 L500 1394.8 L502 1390.3 L504 1385.8 L506 1381.3 L508 1376.8 L510 1372.2 L512 1367.6 L514 1362.9 L516 1358.2 L518 1353.5 L520 1348.8 L522 1344 L524 1339.2 L526 1334.3 L528 1329.5 L530 1324.6 L532 1319.7 L534 1314.7 L536 1309.7 L538 1304.8 L540 1299.8 L542 1294.7 L544 1289.7 L546 1284.6 L548 1279.5 L550 1274.4 L552 1269.3 L554 1264.2 L556 1259.1 L558 1254 L560 1248.8 L562 1243.7 L564 1238.5 L566 1233.4 L568 1228.2 L570 1223.1 L572 1218 L574 1212.8 L576 1207.7 L578 1202.6 L580 1197.4 L582 1192.3 L584 1187.2 L586 1182.2 L588 1177.1 L590 1172.1 L592 1167 L594 1162 L596 1157.1 L598 1152.1 L600 1147.2 L602 1142.3 L604 1137.4 L606 1132.6 L608 1127.8 L610 1123.1 L612 1118.4 L614 1113.7 L616 1109 L618 1104.5 L620 1099.9 L622 1095.4 L624 1091 L626 1086.6 L628 1082.3 L630 1078 L632 1073.8 L634 1069.7 L636 1065.6 L638 1061.6 L640 1057.6 L642 1053.7 L644 1049.9 L646 1046.2 L648 1042.5 L650 1039 L652 1035.5 L654 1032.1 L656 1028.7 L658 1025.5 L660 1022.3 L662 1019.3 L664 1016.3 L666 1013.4 L668 1010.6 L670 1008 L672 1005.4 L674 1002.9 L676 1000.5 L678 998.2 L680 996.1 L682 994 L684 992.1 L686 990.2 L688 988.5 L690 986.9 L692 985.4 L694 984.1 L696 982.8 L698 981.7 L700 980.6 L702 979.8 L704 979 L706 978.3 L708 977.8 L710 977.4 L712 977.1 L714 977 L716 977 L718 977.1 L720 977.3 L722 977.7 L724 978.2 L726 978.8 L728 979.5 L730 980.4 L732 981.4 L734 982.5 L736 983.8 L738 985.1 L740 986.6 L742 988.2 L744 990 L746 991.9 L748 993.8 L750 995.9 L752 998.2 L754 1000.5 L756 1002.9 L758 1005.5 L760 1008.2 L762 1011 L764 1013.9 L766 1016.9 L768 1020 L770 1023.2 L772 1026.5 L774 1030 L776 1033.5 L778 1037.1 L780 1040.8 L782 1044.6 L784 1048.5 L786 1052.5 L788 1056.6 L790 1060.7 L792 1064.9 L794 1069.2 L796 1073.6 L798 1078.1 L800 1082.6 L802 1087.2 L804 1091.9 L806 1096.7 L808 1101.5 L810 1106.3 L812 1111.3 L814 1116.2 L816 1121.3 L818 1126.4 L820 1131.5 L822 1136.7 L824 1141.9 L826 1147.2 L828 1152.5 L830 1157.8 L832 1163.2 L834 1168.7 L836 1174.1 L838 1179.6 L840 1185.1 L842 1190.6 L844 1196.2 L846 1201.8 L848 1207.4 L850 1213 L852 1218.6 L854 1224.3 L856 1229.9 L858 1235.6 L860 1241.3 L862 1246.9 L864 1252.6 L866 1258.3 L868 1264 L870 1269.7 L872 1275.3 L874 1281 L876 1286.7 L878 1292.3 L880 1298 L882 1303.6 L884 1309.2 L886 1314.8 L888 1320.4 L890 1326 L892 1331.6 L894 1337.1 L896 1342.6 L898 1348.1 L900 1353.5 L902 1359 L904 1364.4 L906 1369.7 L908 1375.1 L910 1380.4 L912 1385.7 L914 1390.9 L916 1396.2 L918 1401.3 L920 1406.5 L922 1411.6 L924 1416.6 L926 1421.7 L928 1426.7 L930 1431.6 L932 1436.5 L934 1441.4 L936 1446.2 L938 1451 L940 1455.7 L942 1460.4 L944 1465.1 L946 1469.7 L948 1474.2 L950 1478.7 L952 1483.2 L954 1487.6 L956 1491.9 L958 1496.2 L960 1500.5 L962 1504.7 L964 1508.9 L966 1513 L968 1517.1 L970 1521.1 L972 1525 L974 1529 L976 1532.8 L978 1536.6 L980 1540.4 L982 1544.1 L984 1547.7 L986 1551.4 L988 1554.9 L990 1558.4 L992 1561.9 L994 1565.3 L996 1568.6 L998 1571.9 L1000 1575.2 L1002 1578.4 L1004 1581.5 L1006 1584.6 L1008 1587.7 L1010 1590.7 L1012 1593.7 L1014 1596.6 L1016 1599.4 L1018 1602.2 L1020 1605 L1022 1607.7 L1024 1610.4 L1026 1613 L1028 1615.6 L1030 1618.1 L1032 1620.6 L1034 1623 L1036 1625.4 L1038 1627.8 L1040 1630.1 L1042 1632.3 L1044 1634.5 L1046 1636.7 L1048 1638.9 L1050 1641 L1052 1643 L1054 1645 L1056 1647 L1058 1648.9 L1060 1650.8 L1062 1652.7 L1064 1654.5 L1066 1656.3 L1068 1658 L1070 1659.7 L1072 1661.4 L1074 1663 L1076 1664.6 L1078 1666.2 L1080 1667.7 L1082 1669.2 L1084 1670.7 L1086 1672.1 L1088 1673.5 L1090 1674.9 L1092 1676.2 L1094 1677.6 L1096 1678.8 L1098 1680.1 L1100 1681.3 L1102 1682.5 L1104 1683.7 L1106 1684.8 L1108 1685.9 L1110 1687 L1112 1688.1 L1114 1689.1 L1116 1690.2 L1118 1691.2 L1120 1692.1 L1122 1693.1 L1124 1694 L1126 1694.9 L1128 1695.8 L1130 1696.6 L1132 1697.5 L1134 1698.3 L1136 1699.1 L1138 1699.9 L1140 1700.6 L1142 1701.4 L1144 1702.1 L1146 1702.8 L1148 1703.5 L1150 1704.2 L1152 1704.8 L1154 1705.5 L1156 1706.1 L1158 1706.7 L1160 1707.3 L1162 1707.9 L1164 1708.5 L1166 1709 L1168 1709.5 L1170 1710.1 L1172 1710.6 L1174 1711.1 L1176 1711.6 L1178 1712.1 L1180 1712.5 L1182 1713 L1184 1713.4 L1186 1713.9 L1188 1714.3 L1190 1714.7 L1192 1715.1 L1194 1715.5 L1196 1715.9 L1198 1716.3 L1200 1716.6 L1202 1717 L1204 1717.3 L1206 1717.7 L1208 1718 L1210 1718.4 L1212 1718.7 L1214 1719 L1216 1719.3 L1218 1719.6 L1220 1719.9 L1222 1720.2 L1224 1720.5 L1226 1720.7 L1228 1721 L1230 1721.3 L1232 1721.5 L1234 1721.8 L1236 1722 L1238 1722.3 L1240 1722.5 L1242 1722.8 L1244 1723 L1246 1723.2 L1248 1723.4 L1250 1723.7 L1252 1723.9 L1254 1724.1 L1256 1724.3 L1258 1724.5 L1260 1724.7 L1262 1724.9 L1264 1725.1 L1266 1725.3 L1268 1725.5 L1270 1725.7 L1272 1725.8 L1274 1726 L1276 1726.2 L1278 1726.4 L1280 1726.6 L1282 1726.7 L1282.5 1726.8" stroke="#FF3030" stroke-width="3.6" fill="none" stroke-linejoin="round" stroke-linecap="butt" clip-path="url(#c4)"/>
<path d="M126 1652.2 L128 1652.2 L130 1652.2 L132 1652.2 L134 1652.2 L136 1652.2 L138 1652.2 L140 1652.2 L142 1652.2 L144 1652.2 L146 1652.2 L148 1652.2 L150 1652.2 L152 1652.2 L154 1652.2 L156 1652.2 L158 1652.2 L160 1652.2 L162 1652.2 L164 1652.2 L166 1652.2 L168 1652.2 L170 1652.2 L172 1652.2 L174 1652.2 L176 1652.2 L178 1652.2 L180 1652.2 L182 1652.2 L184 1652.2 L186 1652.2 L188 1652.2 L190 1652.2 L192 1652.2 L194 1652.2 L196 1652.2 L198 1652.2 L200 1652.2 L202 1652.2 L204 1652.2 L206 1652.2 L208 1652.2 L210 1652.2 L212 1652.2 L214 1652.2 L216 1652.2 L218 1652.2 L220 1652.2 L222 1652.2 L224 1652.1 L226 1652.1 L228 1652.1 L230 1652.1 L232 1652.1 L234 1652.1 L236 1652.1 L238 1652.1 L240 1652.1 L242 1652.1 L244 1652.1 L246 1652.1 L248 1652.1 L250 1652.1 L252 1652 L254 1652 L256 1652 L258 1652 L260 1652 L262 1652 L264 1651.9 L266 1651.9 L268 1651.9 L270 1651.8 L272 1651.8 L274 1651.8 L276 1651.7 L278 1651.7 L280 1651.6 L282 1651.6 L284 1651.5 L286 1651.4 L288 1651.4 L290 1651.3 L292 1651.2 L294 1651.1 L296 1651 L298 1650.9 L300 1650.8 L302 1650.6 L304 1650.5 L306 1650.3 L308 1650.2 L310 1650 L312 1649.8 L314 1649.6 L316 1649.4 L318 1649.1 L320 1648.8 L322 1648.6 L324 1648.3 L326 1647.9 L328 1647.6 L330 1647.2 L332 1646.8 L334 1646.4 L336 1646 L338 1645.5 L340 1645 L342 1644.4 L344 1643.9 L346 1643.2 L348 1642.6 L350 1641.9 L352 1641.2 L354 1640.5 L356 1639.7 L358 1638.8 L360 1638 L362 1637 L364 1636.1 L366 1635.1 L368 1634 L370 1632.9 L372 1631.8 L374 1630.6 L376 1629.3 L378 1628 L380 1626.7 L382 1625.3 L384 1623.9 L386 1622.4 L388 1620.9 L390 1619.3 L392 1617.7 L394 1616 L396 1614.3 L398 1612.5 L400 1610.7 L402 1608.9 L404 1607 L406 1605.1 L408 1603.2 L410 1601.2 L412 1599.2 L414 1597.2 L416 1595.2 L418 1593.1 L420 1591 L422 1588.9 L424 1586.8 L426 1584.7 L428 1582.6 L430 1580.5 L432 1578.5 L434 1576.4 L436 1574.3 L438 1572.3 L440 1570.3 L442 1568.3 L444 1566.4 L446 1564.5 L448 1562.6 L450 1560.9 L452 1559.1 L454 1557.4 L456 1555.8 L458 1554.3 L460 1552.8 L462 1551.4 L464 1550.1 L466 1548.9 L468 1547.8 L470 1546.7 L472 1545.8 L474 1544.9 L476 1544.2 L478 1543.6 L480 1543 L482 1542.6 L484 1542.3 L486 1542.1 L488 1542 L490 1542.1 L492 1542.2 L494 1542.5 L496 1542.8 L498 1543.3 L500 1543.9 L502 1544.6 L504 1545.5 L506 1546.4 L508 1547.4 L510 1548.5 L512 1549.8 L514 1551.1 L516 1552.5 L518 1554 L520 1555.6 L522 1557.2 L524 1559 L526 1560.8 L528 1562.7 L530 1564.6 L532 1566.6 L534 1568.7 L536 1570.8 L538 1572.9 L540 1575.1 L542 1577.4 L544 1579.6 L546 1581.9 L548 1584.2 L550 1586.5 L552 1588.8 L554 1591.2 L556 1593.5 L558 1595.9 L560 1598.2 L562 1600.5 L564 1602.8 L566 1605.2 L568 1607.4 L570 1609.7 L572 1611.9 L574 1614.1 L576 1616.3 L578 1618.5 L580 1620.6 L582 1622.7 L584 1624.7 L586 1626.7 L588 1628.7 L590 1630.6 L592 1632.4 L594 1634.3 L596 1636.1 L598 1637.8 L600 1639.5 L602 1641.1 L604 1642.7 L606 1644.3 L608 1645.8 L610 1647.3 L612 1648.7 L614 1650.1 L616 1651.4 L618 1652.7 L620 1654 L622 1655.2 L624 1656.3 L626 1657.5 L628 1658.6 L630 1659.6 L632 1660.6 L634 1661.6 L636 1662.6 L638 1663.5 L640 1664.4 L642 1665.3 L644 1666.1 L646 1666.9 L648 1667.7 L650 1668.5 L652 1669.2 L654 1669.9 L656 1670.6 L658 1671.3 L660 1671.9 L662 1672.6 L664 1673.2 L666 1673.8 L668 1674.4 L670 1675 L672 1675.5 L674 1676.1 L676 1676.6 L678 1677.2 L680 1677.7 L682 1678.2 L684 1678.7 L686 1679.2 L688 1679.7 L690 1680.2 L692 1680.7 L694 1681.1 L696 1681.6 L698 1682.1 L700 1682.5 L702 1683 L704 1683.4 L706 1683.9 L708 1684.3 L710 1684.8 L712 1685.2 L714 1685.7 L716 1686.1 L718 1686.5 L720 1687 L722 1687.4 L724 1687.8 L726 1688.2 L728 1688.7 L730 1689.1 L732 1689.5 L734 1689.9 L736 1690.4 L738 1690.8 L740 1691.2 L742 1691.6 L744 1692 L746 1692.5 L748 1692.9 L750 1693.3 L752 1693.7 L754 1694.1 L756 1694.5 L758 1694.9 L760 1695.3 L762 1695.7 L764 1696.1 L766 1696.6 L768 1697 L770 1697.4 L772 1697.8 L774 1698.2 L776 1698.6 L778 1698.9 L780 1699.3 L782 1699.7 L784 1700.1 L786 1700.5 L788 1700.9 L790 1701.3 L792 1701.7 L794 1702 L796 1702.4 L798 1702.8 L800 1703.2 L802 1703.5 L804 1703.9 L806 1704.3 L808 1704.6 L810 1705 L812 1705.4 L814 1705.7 L816 1706.1 L818 1706.4 L820 1706.8 L822 1707.1 L824 1707.5 L826 1707.8 L828 1708.1 L830 1708.5 L832 1708.8 L834 1709.1 L836 1709.5 L838 1709.8 L840 1710.1 L842 1710.4 L844 1710.7 L846 1711 L848 1711.4 L850 1711.7 L852 1712 L854 1712.3 L856 1712.5 L858 1712.8 L860 1713.1 L862 1713.4 L864 1713.7 L866 1714 L868 1714.2 L870 1714.5 L872 1714.8 L874 1715 L876 1715.3 L878 1715.6 L880 1715.8 L882 1716.1 L884 1716.3 L886 1716.6 L888 1716.8 L890 1717 L892 1717.3 L894 1717.5 L896 1717.7 L898 1718 L900 1718.2 L902 1718.4 L904 1718.6 L906 1718.8 L908 1719 L910 1719.2 L912 1719.4 L914 1719.6 L916 1719.8 L918 1720 L920 1720.2 L922 1720.4 L924 1720.6 L926 1720.7 L928 1720.9 L930 1721.1 L932 1721.3 L934 1721.4 L936 1721.6 L938 1721.7 L940 1721.9 L942 1722.1 L944 1722.2 L946 1722.4 L948 1722.5 L950 1722.6 L952 1722.8 L954 1722.9 L956 1723.1 L958 1723.2 L960 1723.3 L962 1723.4 L964 1723.6 L966 1723.7 L968 1723.8 L970 1723.9 L972 1724 L974 1724.2 L976 1724.3 L978 1724.4 L980 1724.5 L982 1724.6 L984 1724.7 L986 1724.8 L988 1724.9 L990 1725 L992 1725.1 L994 1725.1 L996 1725.2 L998 1725.3 L1000 1725.4 L1002 1725.5 L1004 1725.6 L1006 1725.6 L1008 1725.7 L1010 1725.8 L1012 1725.8 L1014 1725.9 L1016 1726 L1018 1726.1 L1020 1726.1 L1022 1726.2 L1024 1726.2 L1026 1726.3 L1028 1726.4 L1030 1726.4 L1032 1726.5 L1034 1726.5 L1036 1726.6 L1038 1726.6 L1040 1726.7 L1042 1726.7 L1044 1726.8 L1046 1726.8 L1048 1726.9 L1050 1726.9 L1052 1726.9 L1054 1727 L1056 1727 L1058 1727.1 L1060 1727.1 L1062 1727.1 L1064 1727.2 L1066 1727.2 L1068 1727.2 L1070 1727.3 L1072 1727.3 L1074 1727.3 L1076 1727.3 L1078 1727.4 L1080 1727.4 L1082 1727.4 L1084 1727.5 L1086 1727.5 L1088 1727.5 L1090 1727.5 L1092 1727.5 L1094 1727.6 L1096 1727.6 L1098 1727.6 L1100 1727.6 L1102 1727.7 L1104 1727.7 L1106 1727.7 L1108 1727.7 L1110 1727.7 L1112 1727.7 L1114 1727.8 L1116 1727.8 L1118 1727.8 L1120 1727.8 L1122 1727.8 L1124 1727.8 L1126 1727.8 L1128 1727.8 L1130 1727.9 L1132 1727.9 L1134 1727.9 L1136 1727.9 L1138 1727.9 L1140 1727.9 L1142 1727.9 L1144 1727.9 L1146 1727.9 L1148 1727.9 L1150 1728 L1152 1728 L1154 1728 L1156 1728 L1158 1728 L1160 1728 L1162 1728 L1164 1728 L1166 1728 L1168 1728 L1170 1728 L1172 1728 L1174 1728 L1176 1728 L1178 1728 L1180 1728 L1182 1728 L1184 1728.1 L1186 1728.1 L1188 1728.1 L1190 1728.1 L1192 1728.1 L1194 1728.1 L1196 1728.1 L1198 1728.1 L1200 1728.1 L1202 1728.1 L1204 1728.1 L1206 1728.1 L1208 1728.1 L1210 1728.1 L1212 1728.1 L1214 1728.1 L1216 1728.1 L1218 1728.1 L1220 1728.1 L1222 1728.1 L1224 1728.1 L1226 1728.1 L1228 1728.1 L1230 1728.1 L1232 1728.1 L1234 1728.1 L1236 1728.1 L1238 1728.1 L1240 1728.1 L1242 1728.1 L1244 1728.1 L1246 1728.1 L1248 1728.1 L1250 1728.1 L1252 1728.1 L1254 1728.1 L1256 1728.1 L1258 1728.1 L1260 1728.1 L1262 1728.1 L1264 1728.1 L1266 1728.1 L1268 1728.1 L1270 1728.1 L1272 1728.1 L1274 1728.1 L1276 1728.1 L1278 1728.1 L1280 1728.1 L1282 1728.1 L1282.5 1728.1" stroke="#0068E2" stroke-width="3.8" fill="none" stroke-linejoin="round" stroke-linecap="butt" clip-path="url(#c4)"/>
<rect x="110" y="31.5" width="1178" height="711.5" fill="none" stroke="#000" stroke-width="4"/>
<line x1="110" y1="268.5" x2="1288" y2="268.5" stroke="#000" stroke-width="4.4"/>
<line x1="110" y1="506" x2="1288" y2="506" stroke="#000" stroke-width="4.4"/>
<line x1="110" y1="743" x2="110" y2="759" stroke="#000" stroke-width="4"/>
<line x1="257.2" y1="743" x2="257.2" y2="750.5" stroke="#000" stroke-width="4"/>
<line x1="404.5" y1="743" x2="404.5" y2="759" stroke="#000" stroke-width="4"/>
<line x1="551.8" y1="743" x2="551.8" y2="750.5" stroke="#000" stroke-width="4"/>
<line x1="699" y1="743" x2="699" y2="759" stroke="#000" stroke-width="4"/>
<line x1="846.2" y1="743" x2="846.2" y2="750.5" stroke="#000" stroke-width="4"/>
<line x1="993.5" y1="743" x2="993.5" y2="759" stroke="#000" stroke-width="4"/>
<line x1="1140.8" y1="743" x2="1140.8" y2="750.5" stroke="#000" stroke-width="4"/>
<line x1="1288" y1="743" x2="1288" y2="759" stroke="#000" stroke-width="4"/>
<text x="110" y="803" class="tl1" text-anchor="middle">536</text>
<text x="404.5" y="803" class="tl1" text-anchor="middle">534</text>
<text x="699" y="803" class="tl1" text-anchor="middle">532</text>
<text x="993.5" y="803" class="tl1" text-anchor="middle">530</text>
<text x="1288" y="803" class="tl1" text-anchor="middle">528</text>
<text transform="translate(698.4 883) scale(1.035 1)" class="xt1" text-anchor="middle">Binding energy(eV)</text>
<text transform="translate(72.8 387.75) rotate(-90) scale(1.03 1)" class="yt1" text-anchor="middle">Intensity/a.u(×10<tspan class="sup1" dy="-22.1">4</tspan><tspan dy="22.1">)</tspan></text>
<text x="1250.5" y="93.6" class="pl" text-anchor="end">RSA-O1s</text>
<text transform="translate(1256.5 334.2) scale(0.976 1)" class="pl" style="font-size:43.5px" text-anchor="end">RSA-300-O1s</text>
<text x="1253.5" y="567.2" class="pl" text-anchor="end">RSA-300-80-O1s</text>
<rect x="124" y="907" width="1160.5" height="933.5" fill="none" stroke="#000" stroke-width="4.5"/>
<line x1="269.1" y1="1840.5" x2="269.1" y2="1831.5" stroke="#000" stroke-width="4"/>
<line x1="414.1" y1="1840.5" x2="414.1" y2="1822.5" stroke="#000" stroke-width="4"/>
<line x1="559.2" y1="1840.5" x2="559.2" y2="1831.5" stroke="#000" stroke-width="4"/>
<line x1="704.2" y1="1840.5" x2="704.2" y2="1822.5" stroke="#000" stroke-width="4"/>
<line x1="849.3" y1="1840.5" x2="849.3" y2="1831.5" stroke="#000" stroke-width="4"/>
<line x1="994.4" y1="1840.5" x2="994.4" y2="1822.5" stroke="#000" stroke-width="4"/>
<line x1="1139.4" y1="1840.5" x2="1139.4" y2="1831.5" stroke="#000" stroke-width="4"/>
<text x="124" y="1898.3" class="tl2" text-anchor="middle">172</text>
<text x="414.1" y="1898.3" class="tl2" text-anchor="middle">170</text>
<text x="704.2" y="1898.3" class="tl2" text-anchor="middle">168</text>
<text x="994.4" y="1898.3" class="tl2" text-anchor="middle">166</text>
<text x="1284.5" y="1898.3" class="tl2" text-anchor="middle">164</text>
<text x="704" y="1991.7" class="xt2" text-anchor="middle">Binding energy(eV)</text>
<text transform="translate(81.4 1374.35) rotate(-90) scale(1.0164 1)" class="yt2" text-anchor="middle">Intensity/a.u(×10<tspan class="sup2" dy="-24.8">2</tspan><tspan dy="24.8">)</tspan></text>
<text x="1256.5" y="985.9" class="pl2" text-anchor="end">RSA-300-80-S2p</text>
</svg></body></html>
